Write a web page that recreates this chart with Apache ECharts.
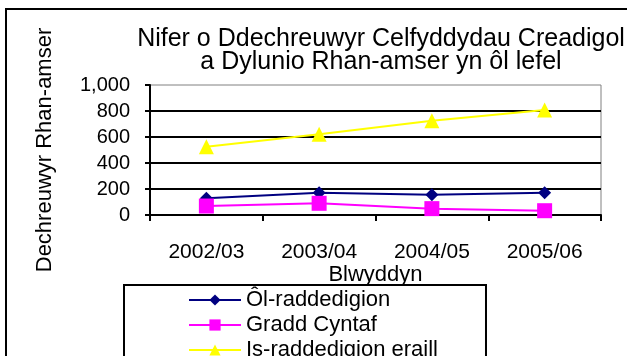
<!DOCTYPE html>
<html>
<head>
<meta charset="utf-8">
<script src="https://cdn.jsdelivr.net/npm/echarts@6/dist/echarts.min.js"></script>
<style>
  html, body { margin: 0; padding: 0; background: #fff; }
  #chart { width: 627px; height: 356px; }
</style>
</head>
<body>
<div id="chart"></div>
<script>
// Part-time starters in Creative Arts and Design, by level
const years = ['2002/03', '2003/04', '2004/05', '2005/06'];
const postgraduate = [128, 172, 156, 172];     // Ôl-raddedigion
const firstDegree = [69, 90, 49, 33];          // Gradd Cyntaf
const otherUndergrad = [525, 622, 725, 808];   // Is-raddedigion eraill
const yTicks = { min: 0, max: 1000, step: 200 };

const FONT = 'Liberation Sans, Arial, sans-serif';

const chart = echarts.init(document.getElementById('chart'));
chart.setOption({
  animation: false,
  backgroundColor: '#fff',
  textStyle: { fontFamily: FONT, color: '#000' },
  title: {
    text: 'Nifer o Ddechreuwyr Celfyddydau Creadigol\na Dylunio Rhan-amser yn ôl lefel',
    left: 376,
    top: 23,
    textAlign: 'center',
    textStyle: { fontFamily: FONT, fontSize: 25, fontWeight: 'normal', color: '#000', lineHeight: 23 }
  },
  graphic: [{
    type: 'rect',
    shape: { x: 6, y: 9, width: 700, height: 400 },
    style: { fill: 'none', stroke: '#000', lineWidth: 2 },
    z: -1
  }],
  legend: {
    orient: 'vertical',
    left: 124,
    top: 285,
    height: 160,
    itemWidth: 52,
    itemHeight: 14,
    itemGap: 3,
    padding: [4, 48, 30, 64],
    borderColor: '#000',
    borderWidth: 2,
    textStyle: { fontFamily: FONT, fontSize: 22, color: '#000' },
    data: ['Ôl-raddedigion', 'Gradd Cyntaf', 'Is-raddedigion eraill']
  },
  grid: {
    left: 150, right: 26, top: 85, bottom: 141,
    show: true, borderColor: '#808080', borderWidth: 1, backgroundColor: '#fff'
  },
  xAxis: {
    type: 'category',
    data: years,
    boundaryGap: true,
    name: 'Blwyddyn',
    nameLocation: 'middle',
    nameGap: 47,
    nameTextStyle: { fontFamily: FONT, fontSize: 22, color: '#000' },
    axisLine: { lineStyle: { color: '#000', width: 2 } },
    axisTick: { show: true, length: 6, lineStyle: { color: '#000', width: 2 } },
    axisLabel: { fontFamily: FONT, fontSize: 21, color: '#000', margin: 27 },
    splitLine: { show: false }
  },
  yAxis: {
    type: 'value',
    min: yTicks.min, max: yTicks.max, interval: yTicks.step,
    name: 'Dechreuwyr Rhan-amser',
    nameLocation: 'middle',
    nameGap: 94,
    nameRotate: 90,
    nameTextStyle: { fontFamily: FONT, fontSize: 22, color: '#000' },
    axisLine: { show: true, lineStyle: { color: '#000', width: 2 } },
    axisTick: { show: true, length: 5, lineStyle: { color: '#000', width: 2 } },
    axisLabel: {
      fontFamily: FONT, fontSize: 20, color: '#000', margin: 20,
      formatter: v => v.toLocaleString('en-US')
    },
    splitLine: { show: true, showMaxLine: false, lineStyle: { color: '#000', width: 2 } }
  },
  series: [
    {
      name: 'Ôl-raddedigion', type: 'line', data: postgraduate,
      symbol: 'diamond', symbolSize: 13,
      lineStyle: { color: '#000080', width: 2 },
      itemStyle: { color: '#000080' }
    },
    {
      name: 'Gradd Cyntaf', type: 'line', data: firstDegree,
      symbol: 'rect', symbolSize: 15,
      lineStyle: { color: '#FF00FF', width: 2 },
      itemStyle: { color: '#FF00FF' }
    },
    {
      name: 'Is-raddedigion eraill', type: 'line', data: otherUndergrad,
      symbol: 'triangle', symbolSize: 15,
      lineStyle: { color: '#FFFF00', width: 2 },
      itemStyle: { color: '#FFFF00' }
    }
  ]
});
</script>
</body>
</html>
